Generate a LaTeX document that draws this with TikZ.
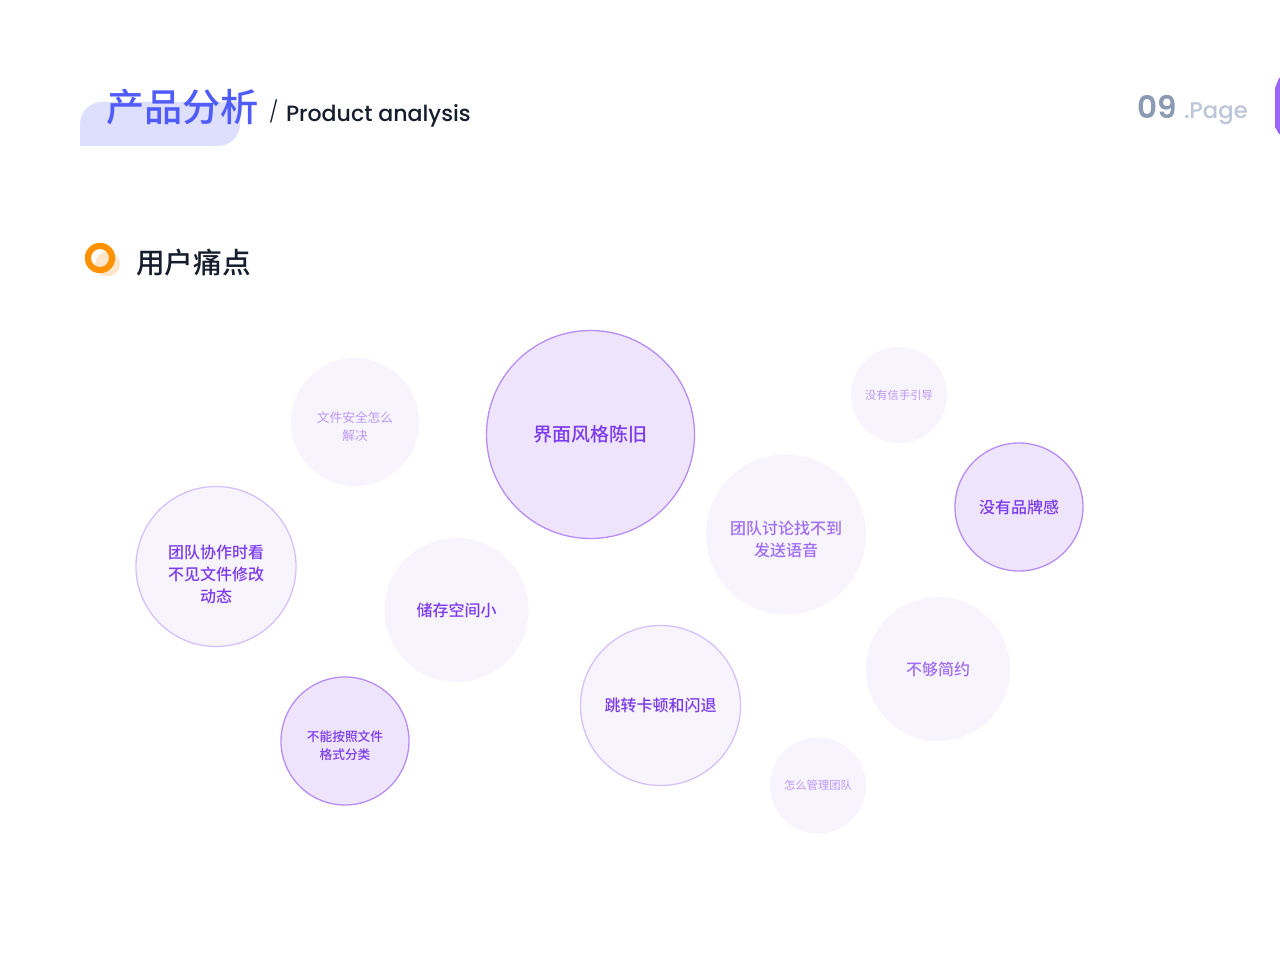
\documentclass[tikz,border=0pt]{standalone}
\usepackage{fontspec}
\setmainfont{Poppins}
\newfontfamily\cjk{Noto Sans CJK SC Medium}
\newfontfamily\cjkr{Noto Sans CJK SC}
\newfontfamily\latn{Poppins Medium}
\newfontfamily\latnl{Poppins Light}
\newfontfamily\latnb{Poppins SemiBold}
\definecolor{pv}{HTML}{7C3AED}
\definecolor{pvm}{HTML}{A06EF2}
\definecolor{pvl}{HTML}{BC98F6}
\definecolor{fa}{HTML}{EEE5FD}
\definecolor{fb}{HTML}{F7F4FE}
\definecolor{ea}{HTML}{B78DF5}
\definecolor{eb}{HTML}{D6C2FA}
\definecolor{band}{HTML}{DDDFFD}
\definecolor{titleblue}{HTML}{4F5BFB}
\definecolor{ink}{HTML}{161E2E}
\definecolor{slateA}{HTML}{8A9AB3}
\definecolor{slateB}{HTML}{BCC6D8}
\definecolor{tab}{HTML}{9A66F7}
\definecolor{orng}{HTML}{FF9200}
\definecolor{orngl}{HTML}{FDE6CC}
\tikzset{x=1pt,y=-1pt,
  bub/.style={circle,inner sep=0pt,outer sep=0pt,align=center,text=pv},
  strong/.style={bub,fill=fa,draw=ea,line width=1.3pt},
  ringed/.style={bub,fill=fb,draw=eb,line width=1.3pt},
  plain/.style={bub,fill=fb},
  txt/.style={inner sep=0pt,outer sep=0pt,anchor=base west}}
\newcommand{\fs}[2]{\fontsize{#1}{#2}\selectfont}
\newcommand{\lift}[1]{\rule{0pt}{#1pt}}
\begin{document}
\begin{tikzpicture}
\useasboundingbox[fill=white] (0,0) rectangle (1280,960);
% header
\fill[band] (80,146) [rounded corners=22pt] -- (240,146) [sharp corners] -- (240,102) [rounded corners=22pt] -- (80,102) [sharp corners] -- cycle;
\node[txt,text=titleblue] (title) at (106,122) {\cjk\fs{38.2}{38}产品分析};
\node[txt,text=ink] (slash) at (269,120) {\latnl\fs{21}{24}/};
\node[txt,text=ink] (sub) at (286,121.5) {\latn\fs{22.1}{23}Product analysis};
\node[txt,text=slateA] (pnum) at (1137,118.5) {\latnb\fs{31}{31}09};
\node[txt,text=slateB] (plabel) at (1184,118.5) {\latn\fs{22.7}{22}.Page};
\fill[tab] (1280,78) -- (1279,78) -- (1275,88) -- (1275,127) -- (1279,134) -- (1280,134) -- cycle;
% section marker
\fill[orngl] (107.5,264) circle[radius=12.5];
\fill[orng,even odd rule] (100,258) circle[radius=15.2] (100,258) circle[radius=9];
\node[txt,text=ink] (section) at (136,273) {\cjk\fs{28.7}{28.5}用户痛点};
% bubbles
\node[strong,minimum size=208pt,font=\cjk\fs{19}{24}] (a) at (590.5,434.5) {界面风格陈旧};
\node[plain,minimum size=128pt,text=pvl,font=\cjkr\fs{12.7}{18}] (b) at (355,422) {\lift{21}文件安全怎么\\解决};
\node[plain,minimum size=96pt,text=pvl,font=\cjkr\fs{11.3}{15}] (c) at (899,395) {没有信手引导};
\node[plain,minimum size=160pt,text=pvm,font=\cjk\fs{16}{22.5}] (d) at (786,534.5) {\lift{23}团队讨论找不到\\发送语音};
\node[strong,minimum size=128pt,font=\cjk\fs{16}{22}] (e) at (1019,507) {没有品牌感};
\node[ringed,minimum size=160pt,font=\cjk\fs{16}{22}] (f) at (216,566.5) {\lift{30}团队协作时看\\不见文件修改\\动态};
\node[plain,minimum size=144pt,font=\cjk\fs{16}{22}] (g) at (456.5,610) {储存空间小};
\node[plain,minimum size=144pt,text=pvm,font=\cjk\fs{16}{22}] (h) at (938,669) {不够简约};
\node[ringed,minimum size=160pt,font=\cjk\fs{16}{22}] (i) at (660.5,705.5) {跳转卡顿和闪退};
\node[strong,minimum size=128pt,font=\cjk\fs{12.7}{18}] (j) at (345,741) {\lift{21}不能按照文件\\格式分类};
\node[plain,minimum size=96pt,text=pvl,font=\cjkr\fs{11.3}{15}] (k) at (818,785.5) {怎么管理团队};
\end{tikzpicture}
\end{document}
